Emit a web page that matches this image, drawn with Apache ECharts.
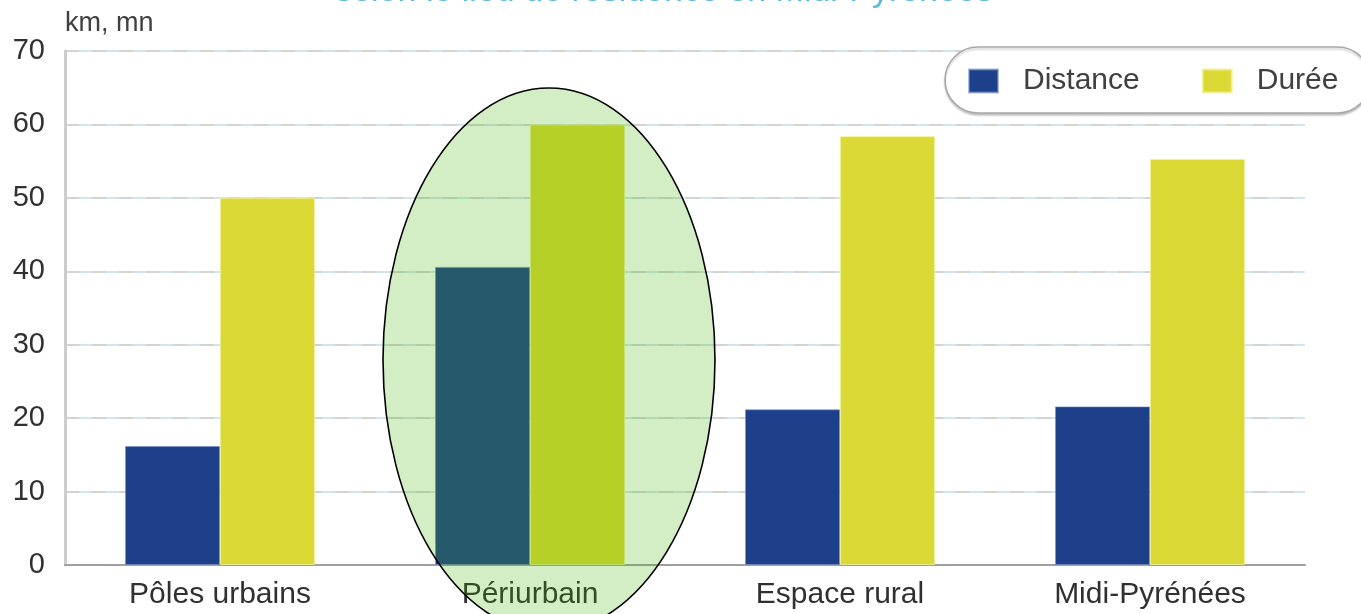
<!DOCTYPE html>
<html><head><meta charset="utf-8">
<script src="https://cdn.jsdelivr.net/npm/echarts@6/dist/echarts.min.js"></script>
<style>html,body{margin:0;padding:0;background:#fff}#c{width:1361px;height:614px}</style>
</head><body><div id="c"></div>
<script>
const titleText = 'selon le lieu de résidence en Midi-Pyrénées';
const unitLabel = 'km, mn';
const categories = ['Pôles urbains', 'Périurbain', 'Espace rural', 'Midi-Pyrénées'];
const seriesNames = ['Distance', 'Durée'];
const distance = [16.2, 40.6, 21.2, 21.6];
const duree = [50, 60, 58.4, 55.3];
const yMin = 0, yMax = 70, yStep = 10;
const highlightCategory = 'Périurbain';

const REG = "'Liberation Sans',Arial,sans-serif";
const chart = echarts.init(document.getElementById('c'), null, {renderer: 'canvas'});

const option = {
  animation: false,
  backgroundColor: '#ffffff',
  grid: {left: 65, right: 56, top: 51, bottom: 49},
  legend: {
    orient: 'horizontal',
    left: 945, top: 47, width: 600,
    data: seriesNames,
    icon: 'rect',
    itemWidth: 29, itemHeight: 23, itemGap: 62,
    padding: [17, 32, 15, 23],
    backgroundColor: '#ffffff',
    borderColor: '#a8a8a8', borderWidth: 1.5, borderRadius: 33,
    shadowColor: 'rgba(0,0,0,0.2)', shadowBlur: 2, shadowOffsetY: 2,
    textStyle: {fontFamily: REG, fontSize: 30, color: '#404040', padding: [0, 0, 0, 20], lineHeight: 34},
    z: 20
  },
  xAxis: {
    type: 'category', data: categories,
    axisLine: {lineStyle: {color: '#a0a0a0', width: 2}},
    axisTick: {inside: true, length: 12, lineStyle: {color: '#a0a0a0', width: 2}},
    axisLabel: {fontFamily: REG, fontSize: 30, color: '#303030', margin: 15}
  },
  yAxis: [{
    type: 'value', min: yMin, max: yMax, interval: yStep,
    axisLine: {show: true, lineStyle: {color: '#cccccc', width: 3}},
    axisTick: {show: false},
    axisLabel: {fontFamily: REG, fontSize: 29, color: '#303030', margin: 20},
    splitLine: {lineStyle: {color: '#cfe6ef', width: 2}}
  }, {
    type: 'value', min: yMin, max: yMax, interval: yStep,
    axisLine: {show: false}, axisTick: {show: false}, axisLabel: {show: false},
    splitLine: {lineStyle: {color: '#d3d3d3', width: 2, type: [14, 13]}}
  }],
  series: [
    {name: seriesNames[0], type: 'bar', data: distance, barWidth: 95, barGap: '0%',
     itemStyle: {color: '#1e3f8a', borderColor: 'rgba(120,145,200,0.6)', borderWidth: 1}},
    {name: seriesNames[1], type: 'bar', data: duree, barWidth: 95, barGap: '0%',
     itemStyle: {color: '#dad935', borderColor: 'rgba(240,240,150,0.8)', borderWidth: 1}}
  ]
};
chart.setOption(option);

const center = chart.convertToPixel({xAxisIndex: 0}, highlightCategory);
chart.setOption({
  graphic: [
    {type: 'text', x: 664, y: -25, z: 50,
     style: {text: titleText, fontFamily: REG, fontSize: 34, fill: '#5bb6da', align: 'center', verticalAlign: 'top'}},
    {type: 'text', x: 65, y: 10, z: 50,
     style: {text: unitLabel, fontFamily: REG, fontSize: 27, fill: '#404040', align: 'left', verticalAlign: 'top'}},
    {type: 'ellipse', z: 100,
     shape: {cx: center + 19, cy: 360, rx: 166, ry: 272},
     style: {fill: 'rgba(65,181,0,0.23)', stroke: '#000000', lineWidth: 1.6}}
  ]
});
</script></body></html>
